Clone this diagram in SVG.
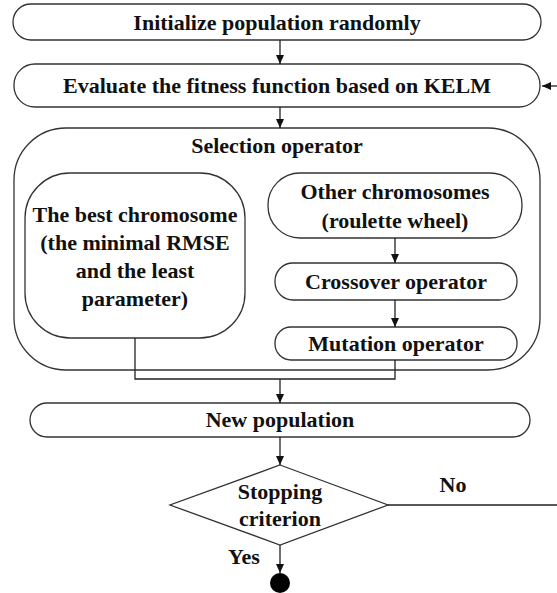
<svg xmlns="http://www.w3.org/2000/svg" width="557" height="593" viewBox="0 0 557 593">
<defs>
<style>
.box{fill:#fff;stroke:#333;stroke-width:1.3}
.t{font-family:"Liberation Serif","Times New Roman",serif;font-weight:bold;font-size:22px;fill:#111;text-anchor:middle}
.ln{fill:none;stroke:#222;stroke-width:1.3}
</style>
<marker id="ah" markerWidth="10" markerHeight="10" refX="9" refY="5" orient="auto" markerUnits="userSpaceOnUse">
<path d="M0,1 L9,5 L0,9 Z" fill="#111"/>
</marker>
</defs>
<rect width="557" height="593" fill="#fff"/>
<g id="init">
<rect class="box" x="13" y="4" width="528" height="36" rx="18"/>
<text class="t" x="277" y="30">Initialize population randomly</text>
</g>
<g id="evaluate">
<rect class="box" x="14" y="64" width="526" height="43" rx="21"/>
<text class="t" x="277" y="93">Evaluate the fitness function based on KELM</text>
</g>
<g id="selection">
<rect class="box" x="14" y="128" width="526" height="242" rx="52"/>
<text class="t" x="277" y="153">Selection operator</text>
</g>
<g id="best">
<rect class="box" x="25" y="173" width="220" height="165" rx="45"/>
<text class="t" x="135" y="222">The best chromosome</text>
<text class="t" x="135" y="250">(the minimal RMSE</text>
<text class="t" x="135" y="278">and the least</text>
<text class="t" x="135" y="306">parameter)</text>
</g>
<g id="other">
<rect class="box" x="268" y="173" width="254" height="65" rx="32"/>
<text class="t" x="395" y="199">Other chromosomes</text>
<text class="t" x="395" y="228">(roulette wheel)</text>
</g>
<g id="crossover">
<rect class="box" x="275" y="263" width="242" height="37" rx="18"/>
<text class="t" x="396" y="289">Crossover operator</text>
</g>
<g id="mutation">
<rect class="box" x="275" y="327" width="242" height="33" rx="16"/>
<text class="t" x="396" y="351">Mutation operator</text>
</g>
<g id="newpop">
<rect class="box" x="30" y="403" width="500" height="34" rx="17"/>
<text class="t" x="280" y="427">New population</text>
</g>
<g id="stop">
<polygon class="box" points="280,465 388,505 280,545 170,505"/>
<text class="t" x="280" y="499">Stopping</text>
<text class="t" x="280" y="526">criterion</text>
</g>
<g id="end">
<circle cx="280" cy="583" r="10" fill="#000"/>
</g>
<g id="connectors">
<line class="ln" x1="280" y1="40" x2="280" y2="64" marker-end="url(#ah)"/>
<line class="ln" x1="557" y1="86" x2="542" y2="86" marker-end="url(#ah)"/>
<line class="ln" x1="280" y1="107" x2="280" y2="128" marker-end="url(#ah)"/>
<line class="ln" x1="395" y1="238" x2="395" y2="263" marker-end="url(#ah)"/>
<line class="ln" x1="395" y1="300" x2="395" y2="327" marker-end="url(#ah)"/>
<polyline class="ln" points="135,338 135,379 395,379 395,360"/>
<line class="ln" x1="280" y1="379" x2="280" y2="403" marker-end="url(#ah)"/>
<line class="ln" x1="280" y1="437" x2="280" y2="465" marker-end="url(#ah)"/>
<line class="ln" x1="388" y1="505" x2="557" y2="505"/>
<text class="t" x="453" y="492">No</text>
<line class="ln" x1="280" y1="545" x2="280" y2="573" marker-end="url(#ah)"/>
<text class="t" x="244" y="564">Yes</text>
</g>
</svg>
